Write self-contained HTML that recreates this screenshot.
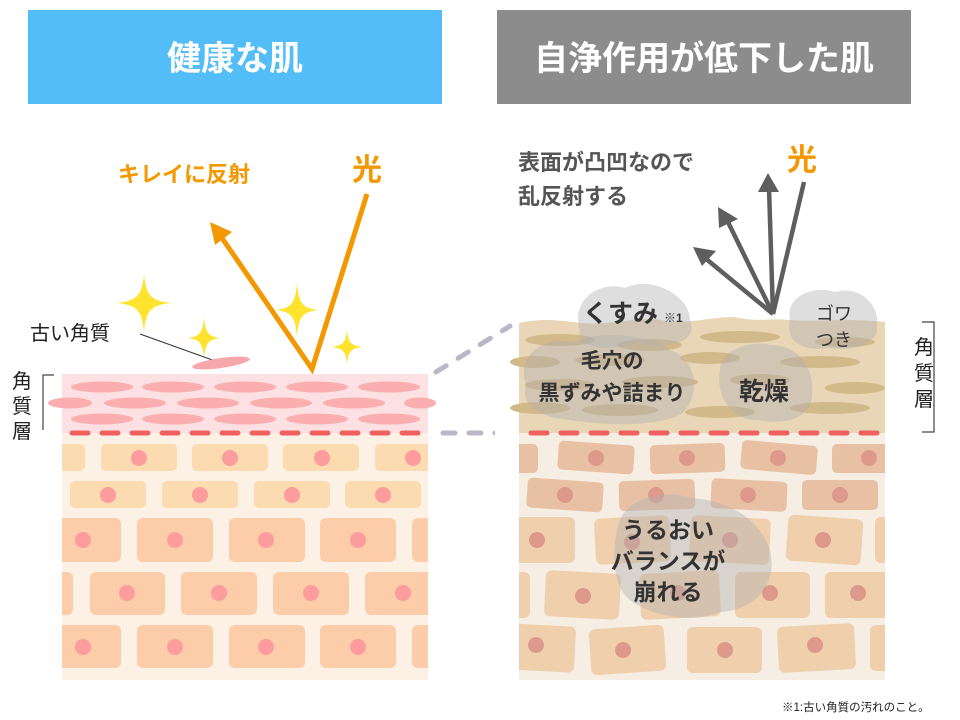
<!DOCTYPE html>
<html><head><meta charset="utf-8"><style>
html,body{margin:0;padding:0;background:#fff}
svg{display:block}
text{font-family:"Liberation Sans","Noto Sans CJK JP",sans-serif}
</style></head><body>
<svg width="960" height="720" viewBox="0 0 960 720" xmlns="http://www.w3.org/2000/svg">
<defs>
<path id="spark" d="M0,-1 C0.08,-0.25 0.25,-0.08 1,0 C0.25,0.08 0.08,0.25 0,1 C-0.08,0.25 -0.25,0.08 -1,0 C-0.25,-0.08 -0.08,-0.25 0,-1Z"/>
</defs>
<rect x="28" y="10" width="414" height="94" fill="#53bdf7"/>
<text x="235" y="70" text-anchor="middle" font-size="34" font-weight="bold" fill="#fff">健康な肌</text>
<rect x="497" y="10" width="414" height="94" fill="#8c8c8c"/>
<text x="704" y="70" text-anchor="middle" font-size="34" font-weight="bold" fill="#fff">自浄作用が低下した肌</text>

<text x="118" y="182" font-size="22" font-weight="bold" fill="#f39800">キレイに反射</text>
<text x="352" y="180" font-size="30" font-weight="bold" fill="#f39800">光</text>
<polyline points="367,194 312,369 222,238" fill="none" stroke="#f39800" stroke-width="5"/>
<polygon points="210,222 232,232 215,245" fill="#f39800"/>
<g fill="#ffe32f">
<use href="#spark" transform="translate(144,303) scale(27,29)"/>
<use href="#spark" transform="translate(297,310) scale(21,27)"/>
<use href="#spark" transform="translate(204,338) scale(16,21)"/>
<use href="#spark" transform="translate(347,347) scale(16,17)"/>
</g>
<text x="30" y="340" font-size="20" fill="#222">古い角質</text>
<line x1="140" y1="334" x2="218" y2="362" stroke="#333" stroke-width="1"/>
<ellipse cx="221" cy="363" rx="29" ry="5" fill="#f7a7ab" transform="rotate(-8 221 363)"/>
<text font-size="20" fill="#222"><tspan x="12" y="388">角</tspan><tspan x="12" y="413">質</tspan><tspan x="12" y="438">層</tspan></text>
<polyline points="54,375 43,375 43,433 54,433" fill="none" stroke="#444" stroke-width="1.2"/>

<rect x="62" y="374" width="366" height="59" fill="#fde1e2"/>
<g fill="#fbaeb0">
<ellipse cx="102" cy="387" rx="31" ry="5.5"/><ellipse cx="173" cy="387" rx="31" ry="5.5"/><ellipse cx="245" cy="387" rx="31" ry="5.5"/><ellipse cx="317" cy="387" rx="31" ry="5.5"/><ellipse cx="389" cy="387" rx="31" ry="5.5"/>
<ellipse cx="70" cy="403" rx="22" ry="5.5"/><ellipse cx="135" cy="403" rx="31" ry="5.5"/><ellipse cx="208" cy="403" rx="31" ry="5.5"/><ellipse cx="281" cy="403" rx="31" ry="5.5"/><ellipse cx="354" cy="403" rx="31" ry="5.5"/><ellipse cx="420" cy="403" rx="16" ry="5.5"/>
<ellipse cx="102" cy="419" rx="31" ry="5.5"/><ellipse cx="173" cy="419" rx="31" ry="5.5"/><ellipse cx="245" cy="419" rx="31" ry="5.5"/><ellipse cx="317" cy="419" rx="31" ry="5.5"/><ellipse cx="389" cy="419" rx="31" ry="5.5"/>
</g>
<rect x="62" y="433" width="366" height="247" fill="#fdf0e4"/>
<line x1="72" y1="433" x2="425" y2="433" stroke="#f06060" stroke-width="5" stroke-dasharray="16 14" stroke-linecap="round"/>
<g fill="#fddbb1">
<rect x="50" y="444" width="35" height="27" rx="5"/><rect x="101" y="444" width="76" height="27" rx="5"/><rect x="192" y="444" width="76" height="27" rx="5"/><rect x="283" y="444" width="76" height="27" rx="5"/><rect x="375" y="444" width="60" height="27" rx="5"/>
<rect x="70" y="481" width="76" height="27" rx="5"/><rect x="162" y="481" width="76" height="27" rx="5"/><rect x="254" y="481" width="76" height="27" rx="5"/><rect x="345" y="481" width="76" height="27" rx="5"/>
</g>
<g fill="#fdcca8">
<rect x="50" y="518" width="71" height="44" rx="6"/><rect x="137" y="518" width="76" height="44" rx="6"/><rect x="229" y="518" width="76" height="44" rx="6"/><rect x="320" y="518" width="76" height="44" rx="6"/><rect x="412" y="518" width="30" height="44" rx="6"/>
<rect x="50" y="572" width="23" height="43" rx="6"/><rect x="90" y="572" width="75" height="43" rx="6"/><rect x="181" y="572" width="76" height="43" rx="6"/><rect x="273" y="572" width="76" height="43" rx="6"/><rect x="365" y="572" width="76" height="43" rx="6"/>
<rect x="50" y="625" width="71" height="43" rx="6"/><rect x="137" y="625" width="76" height="43" rx="6"/><rect x="229" y="625" width="76" height="43" rx="6"/><rect x="320" y="625" width="76" height="43" rx="6"/><rect x="412" y="625" width="30" height="43" rx="6"/>
</g>
<rect x="428" y="430" width="20" height="260" fill="#fff"/><rect x="40" y="430" width="22" height="260" fill="#fff"/>
<g fill="#fc9c9c">
<circle cx="139" cy="458" r="8"/><circle cx="230" cy="458" r="8"/><circle cx="322" cy="458" r="8"/><circle cx="413" cy="458" r="8"/>
<circle cx="108" cy="495" r="8"/><circle cx="200" cy="495" r="8"/><circle cx="292" cy="495" r="8"/><circle cx="383" cy="495" r="8"/>
<circle cx="83" cy="540" r="8"/><circle cx="175" cy="540" r="8"/><circle cx="266" cy="540" r="8"/><circle cx="358" cy="540" r="8"/>
<circle cx="127" cy="593" r="8"/><circle cx="219" cy="593" r="8"/><circle cx="311" cy="593" r="8"/><circle cx="403" cy="593" r="8"/>
<circle cx="83" cy="647" r="8"/><circle cx="175" cy="647" r="8"/><circle cx="266" cy="647" r="8"/><circle cx="358" cy="647" r="8"/>
</g>
<g stroke="#bdb5c8" stroke-width="5" stroke-linecap="round" stroke-dasharray="12 14" fill="none">
<line x1="436" y1="372" x2="510" y2="326"/>
<line x1="443" y1="433" x2="505" y2="433"/>
</g>

<text font-size="22" font-weight="bold" fill="#555"><tspan x="518" y="170">表面が凸凹なので</tspan><tspan x="518" y="204">乱反射する</tspan></text>
<text x="787" y="170" font-size="30" font-weight="bold" fill="#f39800">光</text>
<g stroke="#5e5e5e" stroke-width="4.5" fill="none">
<line x1="804" y1="182" x2="773" y2="314"/>
<line x1="773" y1="314" x2="769" y2="188"/>
<line x1="773" y1="314" x2="727" y2="220"/>
<line x1="773" y1="314" x2="705" y2="258"/>
</g>
<g fill="#5e5e5e">
<polygon points="768,173 779,192 758,192"/>
<polygon points="718,207 738,219 719,228"/>
<polygon points="693,247 716,251 702,266"/>
</g>

<rect x="519" y="433" width="366" height="247" fill="#f6ede3"/>
<path d="M519,323 C540,318 560,320 580,323 C610,326 640,316 660,320 C690,326 720,314 740,318 C760,322 770,318 790,320 C820,322 850,318 885,322 L885,433 L519,433Z" fill="#e8d6b6"/>
<g fill="#d2b98a">
<ellipse cx="560" cy="340" rx="35" ry="6"/><ellipse cx="650" cy="345" rx="32" ry="6"/><ellipse cx="740" cy="337" rx="40" ry="6"/><ellipse cx="845" cy="342" rx="30" ry="5"/>
<ellipse cx="535" cy="362" rx="25" ry="6"/><ellipse cx="610" cy="360" rx="35" ry="6"/><ellipse cx="710" cy="358" rx="30" ry="6"/><ellipse cx="820" cy="362" rx="40" ry="6"/>
<ellipse cx="560" cy="385" rx="35" ry="6"/><ellipse cx="660" cy="382" rx="38" ry="6"/><ellipse cx="760" cy="380" rx="30" ry="6"/><ellipse cx="855" cy="388" rx="30" ry="6"/>
<ellipse cx="540" cy="408" rx="30" ry="6"/><ellipse cx="620" cy="410" rx="38" ry="6"/><ellipse cx="720" cy="412" rx="35" ry="6"/><ellipse cx="830" cy="408" rx="40" ry="6"/>
</g>
<line x1="531" y1="433" x2="878" y2="433" stroke="#f06060" stroke-width="5" stroke-dasharray="16 14" stroke-linecap="round"/>
<g fill="#e8c1a4">
<rect x="505" y="444" width="33" height="29" rx="5"/><rect x="558" y="443" width="76" height="29" rx="5" transform="rotate(4 596 458)"/><rect x="650" y="444" width="75" height="29" rx="5" transform="rotate(-2 687 458)"/><rect x="741" y="443" width="76" height="29" rx="5" transform="rotate(5 779 458)"/><rect x="832" y="444" width="60" height="29" rx="5"/>
<rect x="527" y="480" width="76" height="30" rx="5" transform="rotate(4 565 495)"/><rect x="619" y="480" width="76" height="30" rx="5" transform="rotate(-2 657 495)"/><rect x="711" y="480" width="76" height="30" rx="5" transform="rotate(3 749 495)"/><rect x="802" y="480" width="76" height="30" rx="5"/>
</g>
<g fill="#efcfac">
<rect x="505" y="517" width="70" height="46" rx="6"/><rect x="595" y="517" width="75" height="46" rx="6" transform="rotate(-3 632 540)"/><rect x="690" y="517" width="80" height="46" rx="6" transform="rotate(3 730 540)"/><rect x="787" y="517" width="75" height="46" rx="6" transform="rotate(4 824 540)"/><rect x="875" y="517" width="20" height="46" rx="6"/>
<rect x="505" y="572" width="25" height="46" rx="6"/><rect x="545" y="572" width="75" height="46" rx="6" transform="rotate(3 583 595)"/><rect x="640" y="572" width="80" height="46" rx="6" transform="rotate(-3 680 595)"/><rect x="735" y="572" width="75" height="46" rx="6"/><rect x="825" y="572" width="70" height="46" rx="6"/>
<rect x="505" y="625" width="70" height="46" rx="6" transform="rotate(3 540 648)"/><rect x="590" y="627" width="75" height="46" rx="6" transform="rotate(-4 627 650)"/><rect x="687" y="627" width="75" height="46" rx="6"/><rect x="778" y="625" width="77" height="46" rx="6" transform="rotate(-3 816 648)"/><rect x="870" y="625" width="25" height="46" rx="6"/>
</g>
<rect x="885" y="430" width="30" height="260" fill="#fff"/><rect x="495" y="430" width="24" height="260" fill="#fff"/>
<g fill="#dd9a8c">
<circle cx="596" cy="458" r="8"/><circle cx="687" cy="458" r="8"/><circle cx="778" cy="458" r="8"/><circle cx="869" cy="458" r="8"/>
<circle cx="565" cy="495" r="8"/><circle cx="656" cy="495" r="8"/><circle cx="748" cy="495" r="8"/><circle cx="840" cy="495" r="8"/>
<circle cx="537" cy="540" r="8"/><circle cx="632" cy="542" r="8"/><circle cx="730" cy="540" r="8"/><circle cx="823" cy="540" r="8"/>
<circle cx="583" cy="596" r="8"/><circle cx="678" cy="593" r="8"/><circle cx="770" cy="593" r="8"/><circle cx="858" cy="593" r="8"/>
<circle cx="536" cy="645" r="8"/><circle cx="623" cy="650" r="8"/><circle cx="725" cy="650" r="8"/><circle cx="815" cy="645" r="8"/>
</g>
<g fill="#b0b0b0" fill-opacity="0.42">
<path d="M580,330 C570,300 600,280 625,288 C650,275 690,295 690,320 C700,345 660,350 640,342 C610,352 575,350 580,330Z"/>
<path d="M790,320 C785,295 815,285 835,292 C860,285 880,305 877,325 C880,345 850,352 830,348 C800,352 785,340 790,320Z"/>
<path d="M526,385 C515,355 545,335 575,342 C600,330 650,335 670,350 C700,360 700,400 680,415 C650,428 600,425 570,420 C540,418 520,405 526,385Z"/>
<path d="M720,370 C720,350 750,340 770,345 C800,345 815,370 812,395 C812,420 780,425 760,420 C735,422 715,400 720,370Z"/>
<path d="M620,520 C630,495 670,490 690,498 C730,500 760,520 770,550 C778,585 755,610 720,612 C690,625 650,615 630,600 C610,585 612,540 620,520Z"/>
</g>
<g font-weight="bold" fill="#333">
<text x="583" y="322" font-size="25">くすみ</text><text x="664" y="322" font-size="12">※1</text>
<text x="834" y="320" font-size="18" text-anchor="middle" font-weight="normal">ゴワ</text>
<text x="834" y="346" font-size="18" text-anchor="middle" font-weight="normal">つき</text>
<text x="612" y="368" font-size="21" text-anchor="middle">毛穴の</text>
<text x="612" y="400" font-size="21" text-anchor="middle">黒ずみや詰まり</text>
<text x="764" y="400" font-size="25" text-anchor="middle">乾燥</text>
<text x="668" y="538" font-size="23" text-anchor="middle">うるおい</text>
<text x="668" y="569" font-size="23" text-anchor="middle">バランスが</text>
<text x="668" y="600" font-size="23" text-anchor="middle">崩れる</text>
</g>
<polyline points="922,322 934,322 934,432 922,432" fill="none" stroke="#444" stroke-width="1.2"/>
<text font-size="20" fill="#222"><tspan x="914" y="354">角</tspan><tspan x="914" y="380">質</tspan><tspan x="914" y="406">層</tspan></text>
<text x="782" y="711" font-size="11.5" fill="#222">※1:古い角質の汚れのこと。</text>
</svg>
</body></html>
